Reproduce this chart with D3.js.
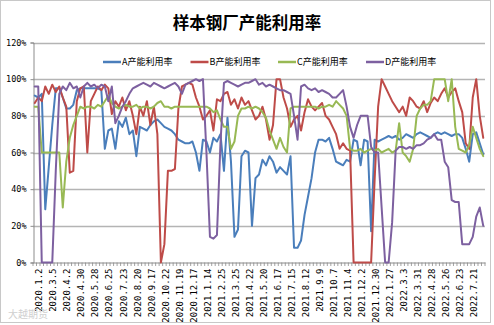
<!DOCTYPE html>
<html>
<head>
<meta charset="utf-8">
<script src="https://cdn.jsdelivr.net/npm/d3@7"></script>
<style>
  html, body { margin: 0; padding: 0; background: #fff; }
  svg { display: block; }
</style>
</head>
<body>
<svg id="chart" width="494" height="325"></svg>
<script>
// Weekly sample dates (category axis)
const categories = [
  "2020.1.2","2020.1.9","2020.1.16","2020.2.27","2020.3.5","2020.3.12","2020.3.19","2020.3.26",
  "2020.4.2","2020.4.9","2020.4.16","2020.4.23","2020.4.30","2020.5.7","2020.5.14","2020.5.21",
  "2020.5.28","2020.6.4","2020.6.11","2020.6.18","2020.6.25","2020.7.2","2020.7.9","2020.7.16",
  "2020.7.23","2020.7.30","2020.8.6","2020.8.13","2020.8.20","2020.8.27","2020.9.3","2020.9.10",
  "2020.9.17","2020.9.24","2020.10.9","2020.10.15","2020.10.22","2020.10.29","2020.11.5","2020.11.12",
  "2020.11.19","2020.11.26","2020.12.3","2020.12.10","2020.12.17","2020.12.24","2020.12.31","2021.1.7",
  "2021.1.14","2021.1.21","2021.1.28","2021.2.4","2021.2.25","2021.3.4","2021.3.11","2021.3.18",
  "2021.3.25","2021.4.1","2021.4.8","2021.4.15","2021.4.22","2021.4.29","2021.5.6","2021.5.13",
  "2021.5.20","2021.5.27","2021.6.3","2021.6.10","2021.6.17","2021.6.24","2021.7.1","2021.7.8",
  "2021.7.15","2021.7.22","2021.7.29","2021.8.5","2021.8.12","2021.8.19","2021.8.26","2021.9.2",
  "2021.9.9","2021.9.16","2021.9.23","2021.9.30","2021.10.7","2021.10.14","2021.10.21","2021.10.28",
  "2021.11.4","2021.11.11","2021.11.18","2021.11.25","2021.12.2","2021.12.9","2021.12.16","2021.12.23",
  "2021.12.30","2022.1.6","2022.1.13","2022.1.20","2022.1.27","2022.2.10","2022.2.17","2022.2.24",
  "2022.3.3","2022.3.10","2022.3.17","2022.3.24","2022.3.31","2022.4.7","2022.4.14","2022.4.21",
  "2022.4.28","2022.5.5","2022.5.12","2022.5.19","2022.5.26","2022.6.2","2022.6.9","2022.6.16",
  "2022.6.23","2022.6.30","2022.7.7","2022.7.14","2022.7.21","2022.7.28","2022.8.4","2022.8.11",
  "2022.8.18"
];
// Dates that carry an axis label (every fourth week)
const labelledDates = categories.filter((d, i) => i % 4 === 0 && i <= 124);

// Capacity utilisation, % (A / B / C / D)
const seriesA = [
  91,90,92,29,52,75,95,95, 90,84,84,86,94,95,95,95,
  95,95,95,94,62,72,73,62, 77,74,79,70,72,58,74,73,
  72,75,77,78,76,74,73,72, 70,67,66,65,65,66,60,50,
  67,66,60,68,66,70,50,79, 55,14,18,58,61,60,20,46,
  48,56,53,58,55,49,52,50, 48,58,8,8,12,26,36,46,
  60,67,67,66,68,62,55,54, 53,56,55,67,66,53,67,66,
  17,67,66,67,68,69,68,69, 67,68,70,69,68,70,71,70,
  69,68,70,71,70,71,70,69, 70,70,68,62,55,70,71,65,
  59
];
const seriesB = [
  87,90,88,96,92,97,93,96, 90,85,49,50,88,95,96,60,
  88,92,96,94,97,95,81,88, 85,90,83,88,80,70,85,80,
  88,75,85,70,0,10,50,50, 51,84,96,97,98,97,90,85,
  78,80,83,72,89,88,92,93, 86,89,84,90,86,88,83,78,
  80,85,78,67,75,100,100,90, 84,74,78,80,72,82,89,85,
  83,85,87,80,78,74,70,62, 65,62,61,0,0,0,0,0,
  0,45,85,100,96,92,88,85, 82,85,80,90,88,85,84,88,
  82,87,90,88,92,95,90,93, 95,88,82,65,62,90,100,80,
  68
];
const seriesC = [
  85,85,60,60,60,60,60,60, 30,55,68,75,80,85,84,85,
  85,84,86,85,88,91,87,85, 84,85,86,85,85,86,84,85,
  85,84,85,87,88,85,85,84, 85,85,85,85,85,85,85,85,
  85,85,84,82,83,78,74,74, 62,66,80,84,84,85,84,85,
  84,82,79,72,67,62,68,63, 60,84,85,85,85,85,85,85,
  85,84,85,85,86,85,88,86, 84,80,62,61,61,62,60,61,
  62,61,62,60,61,62,60,61, 76,60,58,55,62,80,84,86,
  86,88,100,100,100,100,88,100, 74,62,61,60,64,74,68,62,
  58
];
const seriesD = [
  96,96,0,0,0,0,50,92, 96,94,98,95,96,90,96,98,
  96,97,95,97,96,88,96,76, 80,85,88,92,95,96,97,98,
  97,96,98,97,96,95,96,97, 98,96,92,97,98,99,100,99,
  100,60,14,13,15,65,98,99, 98,97,96,97,98,98,99,100,
  97,98,96,97,96,95,94,94, 93,92,80,67,96,97,95,94,
  95,93,94,93,92,90,90,92, 94,85,74,68,75,80,80,80,
  63,60,60,30,0,0,22,61, 63,63,62,63,62,64,64,65,
  67,68,70,67,67,55,52,34, 33,33,10,10,10,14,25,30,
  20
];
const seriesNames = ["A产能利用率","B产能利用率","C产能利用率","D产能利用率"];
const seriesColors = ["#4A7EBB","#BE4B48","#98B954","#7D60A0"];
const yTicks = [0,20,40,60,80,100,120];
const titleText = "样本钢厂产能利用率";

const allSeries = [seriesA, seriesB, seriesC, seriesD];

const svg = d3.select("#chart");
const W = 494, H = 325;
const plot = {left: 33, right: 485, top: 42.5, bottom: 262.5};

// outer frame
svg.append("rect")
  .attr("x", 0.5).attr("y", 0.5).attr("width", W - 4).attr("height", H - 3)
  .attr("fill", "#fff").attr("stroke", "#c8c8c8").attr("stroke-width", 1);

const x = d3.scalePoint().domain(categories).range([plot.left, plot.right]).padding(0.5);
const step = x.step();
const y = d3.scaleLinear().domain([0, 120]).range([plot.bottom, plot.top]);

// title
svg.append("text")
  .attr("x", 247).attr("y", 29)
  .attr("text-anchor", "middle")
  .attr("font-family", "'Noto Sans CJK SC', sans-serif")
  .attr("font-weight", "bold")
  .attr("font-size", 16.5)
  .attr("fill", "#000")
  .text(titleText);

// horizontal gridlines
svg.append("g").selectAll("line").data(yTicks.filter(v => v > 0)).join("line")
  .attr("x1", plot.left).attr("x2", plot.right)
  .attr("y1", d => Math.round(y(d)) + 0.5).attr("y2", d => Math.round(y(d)) + 0.5)
  .attr("stroke", "#b4b4b4").attr("stroke-width", 1.3);

// y axis
const yAxis = d3.axisLeft(y).tickValues(yTicks).tickFormat(d => d + "%").tickSize(3).tickPadding(4);
const gy = svg.append("g").attr("transform", `translate(${plot.left + 0.5},0)`).call(yAxis);
gy.select(".domain").attr("stroke", "#8c8c8c");
gy.selectAll(".tick line").attr("stroke", "#8c8c8c");
gy.selectAll("text")
  .attr("font-family", "'DejaVu Sans Mono', 'Liberation Mono', monospace")
  .attr("font-size", 8.5).attr("fill", "#000");

// x axis with labels every four weeks
const xAxis = d3.axisBottom(x)
  .tickValues(labelledDates)
  .tickSize(0);
const gx = svg.append("g").attr("transform", `translate(0,${plot.bottom})`).call(xAxis);
gx.select(".domain").attr("stroke", "#8c8c8c");
gx.selectAll("text")
  .attr("font-family", "'DejaVu Sans Mono', 'Liberation Mono', monospace")
  .attr("font-size", 9).attr("fill", "#000")
  .attr("transform", "rotate(-90)")
  .attr("text-anchor", "end")
  .attr("x", -6).attr("y", 4).attr("dy", "0.35em");

// minor tick marks at category boundaries
svg.append("g").selectAll("line").data(d3.range(categories.length + 1)).join("line")
  .attr("x1", i => x(categories[0]) - step / 2 + i * step)
  .attr("x2", i => x(categories[0]) - step / 2 + i * step)
  .attr("y1", plot.bottom).attr("y2", plot.bottom + 3.5)
  .attr("stroke", "#8c8c8c").attr("stroke-width", 0.8);

// series lines
const line = d3.line()
  .x((d, i) => x(categories[i]))
  .y(d => y(d));

svg.append("g").selectAll("path").data(allSeries).join("path")
  .attr("d", d => line(d))
  .attr("fill", "none")
  .attr("stroke", (d, i) => seriesColors[i])
  .attr("stroke-width", 2)
  .attr("stroke-linejoin", "round")
  .attr("stroke-linecap", "round");

// legend
const legendX = [103, 190.5, 278, 366];
const lg = svg.append("g").selectAll("g").data(seriesNames).join("g")
  .attr("transform", (d, i) => `translate(${legendX[i]},62)`);
lg.append("line")
  .attr("x1", 0).attr("x2", 18).attr("y1", 0).attr("y2", 0)
  .attr("stroke", (d, i) => seriesColors[i]).attr("stroke-width", 2.5);
lg.append("text")
  .attr("x", 19).attr("y", 0).attr("dy", "0.35em")
  .attr("font-family", "'Noto Sans CJK SC', sans-serif")
  .attr("font-size", 9).attr("fill", "#000")
  .text(d => d);

// source watermark
svg.append("text")
  .attr("x", 8).attr("y", 318)
  .attr("font-family", "'Noto Sans CJK SC', sans-serif")
  .attr("font-size", 10).attr("fill", "#d0d0d0")
  .text("大越期货");
</script>
</body>
</html>
